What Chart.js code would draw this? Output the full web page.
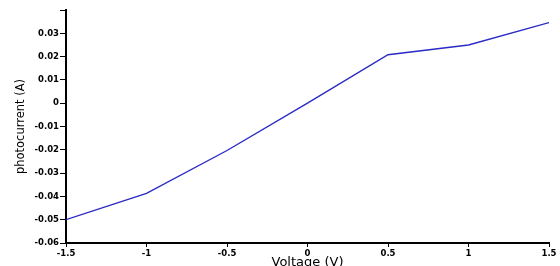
<!DOCTYPE html>
<html>
<head>
<meta charset="utf-8">
<script src="https://cdn.jsdelivr.net/npm/chart.js@4"></script>
<style>
  html, body { margin: 0; padding: 0; background: #fff; }
  #wrap { width: 560px; height: 266px; position: relative; }
</style>
</head>
<body>
<div id="wrap"><canvas id="c"></canvas></div>
<script>
// voltage (V) vs photocurrent (A)
const voltage = [-1.5, -1, -0.5, 0, 0.5, 1, 1.5];
const photocurrent = [-0.05, -0.0387, -0.0203, 0, 0.0208, 0.025, 0.0346];

const fmt = (v) => String(parseFloat(Number(v).toFixed(3)));
const tickFont = { family: "DejaVu Sans", size: 8.5, weight: "bold" };

new Chart(document.getElementById("c"), {
  type: "line",
  data: {
    datasets: [{
      data: voltage.map((x, i) => ({ x, y: photocurrent[i] })),
      borderColor: "#2a2ac4",
      borderWidth: 1.4,
      pointRadius: 0,
      tension: 0,
      fill: false,
    }],
  },
  options: {
    responsive: true,
    maintainAspectRatio: false,
    animation: false,
    layout: { padding: { top: 10, right: 11, left: 0, bottom: 0 } },
    plugins: { legend: { display: false }, tooltip: { enabled: false } },
    scales: {
      x: {
        type: "linear",
        min: -1.5,
        max: 1.5,
        ticks: { stepSize: 0.5, color: "#000", font: tickFont, padding: 2, maxRotation: 0, callback: (v) => fmt(v) },
        grid: { drawOnChartArea: false, color: "#000", tickLength: 4, lineWidth: 1 },
        border: { color: "#000", width: 2 },
        title: { display: true, text: "Voltage (V)", color: "#000", font: { family: "DejaVu Sans", size: 13 }, padding: { top: 0, bottom: -4 } },
        afterFit: (s) => { s.height = 23; },
      },
      y: {
        min: -0.06,
        max: 0.04,
        ticks: { stepSize: 0.01, color: "#000", font: tickFont, padding: 1, callback: (v) => (Math.abs(v - 0.04) < 1e-9 ? "" : fmt(v)) },
        grid: { drawOnChartArea: false, color: "#000", tickLength: 6, lineWidth: 1 },
        border: { color: "#000", width: 2 },
        title: { display: true, text: "photocurrent (A)", color: "#000", font: { family: "DejaVu Sans", size: 11.5 }, padding: { top: 14, bottom: 4 } },
        afterFit: (s) => { s.width = 66; },
      },
    },
  },
});
</script>
</body>
</html>
